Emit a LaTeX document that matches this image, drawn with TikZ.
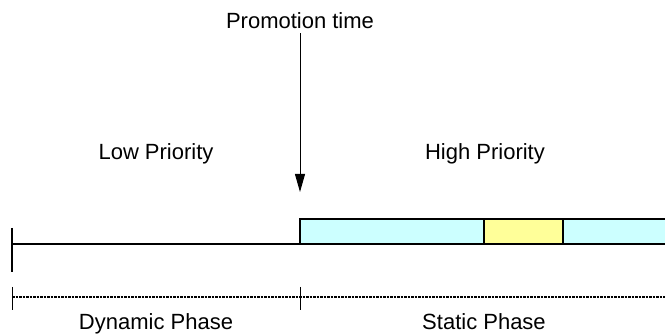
\documentclass[tikz,border=0pt]{standalone}
\usepackage{fontspec}
\setmainfont{Liberation Sans}
\usepackage{tikz}
\usetikzlibrary{arrows.meta,positioning}
\definecolor{slotblue}{RGB}{204,255,255}
\definecolor{slotyellow}{RGB}{255,255,153}
\tikzset{
lbl/.style = {font=\fontsize{22}{26}\selectfont, inner sep=0pt, anchor=base},% plain label
slot/.style = {rectangle, draw=black, line width=1.5pt, minimum height=25pt, inner sep=0pt, outer sep=0pt},% time slot
axis/.style = {line width=2pt},% timeline
phase/.style = {line width=2pt, dash pattern=on 2.5pt off 1pt},% phase line
tick/.style = {line width=1pt}
}
\begin{document}
\begin{tikzpicture}[x=1pt,y=-1pt]
	\useasboundingbox (0,0) rectangle (665,334);
	\node [lbl] (promo) at (300,29) {Promotion time};
	\coordinate (tip) at (300,192);
	\draw [line width=1pt, -{Triangle[length=18pt,width=10pt]}] ([yshift=-4pt]promo.south) -- (tip);
	\node [lbl] (low) at (156,160) {Low Priority};
	\node [lbl] (high) at (485,160) {High Priority};
	% timeline
	\coordinate (t0) at (12,244);
	\coordinate (t1) at (300,244);
	\coordinate (b0) at (12,228);
	\coordinate (b1) at (12,272);
	\node [slot, fill=slotblue, minimum width=184pt, anchor=south west] (s1) at (t1) {};
	\node [slot, fill=slotyellow, minimum width=79pt, right=0pt of s1] (s2) {};
	\node [slot, fill=slotblue, minimum width=120pt, right=0pt of s2] (s3) {};
	\draw [axis] (t0) -- (t1);
	\draw [axis] (b0) -- (b1);
	% phases
	\coordinate (p0) at (12,297);
	\coordinate (p1) at (300,297);
	\coordinate (p2) at (665,297);
	\draw [phase] (p0) -- (p2);
	\draw [tick] ([yshift=10pt]p0) -- ([yshift=-13pt]p0);
	\draw [tick] ([yshift=10pt]p1) -- ([yshift=-13pt]p1);
	\node [lbl] (dyn) at (156,330) {Dynamic Phase};
	\node [lbl] (stat) at (484,330) {Static Phase};
\end{tikzpicture}
\end{document}
